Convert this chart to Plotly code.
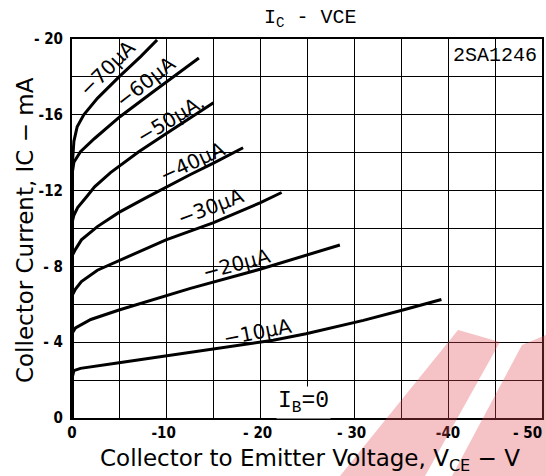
import plotly.graph_objects as go

# Collector-emitter voltage (V) and collector current (mA) per base current curve
ib_labels = ["−10μA", "−20μA", "−30μA", "−40μA", "−50μA.", "−60μA", "−70μA"]

vce_10 = [0, -0.05, -0.2, -0.9, -5, -10, -12.6, -21.4, -24.9, -29.9, -31, -35.2, -39.3]
ic_10 = [0, -2.2, -2.5, -2.62, -2.92, -3.27, -3.45, -4.1, -4.45, -5.0, -5.15, -5.7, -6.25]

vce_20 = [0, -0.05, -0.37, -2, -5, -10, -12.6, -20, -25, -28.5]
ic_20 = [0, -4.5, -4.75, -5.2, -5.7, -6.44, -6.84, -7.85, -8.6, -9.13]

vce_30 = [0, -0.05, -0.37, -1, -2.7, -5, -10, -15, -20, -22.3]
ic_30 = [0, -6.5, -6.8, -7.2, -7.8, -8.3, -9.4, -10.3, -11.35, -11.9]

vce_40 = [0, -0.05, -0.37, -1, -2.7, -5, -7.8, -9.9, -12.6, -15.05, -18.2]
ic_40 = [0, -8.6, -8.9, -9.4, -10.1, -10.85, -11.6, -12.15, -12.85, -13.45, -14.26]

vce_50 = [0, -0.05, -0.2, -0.6, -1.6, -2.4, -4.1, -7.1, -10, -15.05]
ic_50 = [0, -10.4, -10.7, -11.1, -11.7, -12.2, -12.95, -14.05, -15.0, -16.64]

vce_60 = [0, -0.05, -0.2, -0.9, -2.4, -5.1, -8.6, -12.6, -13.5]
ic_60 = [0, -13.0, -13.5, -14.05, -14.75, -15.9, -17.2, -18.7, -19.0]

vce_70 = [0, -0.05, -0.2, -0.55, -1.25, -2.7, -5, -7.3, -9.05]
ic_70 = [0, -13.5, -14.6, -15.37, -16.0, -16.87, -18.0, -19.07, -19.95]

x_tickvals = [0, -5, -10, -15, -20, -25, -30, -35, -40, -45, -50]
x_ticktext = ["0", "", "-10\u00a0", "", "- 20\u00a0", "", "- 30\u00a0", "", "-40", "", ""]
x_last_label = "- 50"
y_tickvals = [0, -2, -4, -6, -8, -10, -12, -14, -16, -18, -20]
y_ticktext = ["0", "", "- 4", "", "- 8", "", "-12", "", "-16", "", "- 20"]

# label positions (data coords) and angles
lab_x = [-19.7, -17.5, -14.7, -12.8, -10.5, -7.8, -3.8]
lab_y = [-4.55, -8.15, -11.15, -13.5, -15.8, -17.75, -18.45]
lab_ang = [-11, -15, -21, -25, -31, -38, -45]

curves = [(vce_10, ic_10), (vce_20, ic_20), (vce_30, ic_30), (vce_40, ic_40),
          (vce_50, ic_50), (vce_60, ic_60), (vce_70, ic_70)]

tick_font = dict(family="Liberation Sans Narrow, DejaVu Sans Condensed, Liberation Sans",
                 size=15, color="black", weight="bold")

fig = go.Figure()
for (xs, ys), name in zip(curves, ib_labels):
    fig.add_trace(go.Scatter(x=xs, y=ys, mode="lines", name=name,
                             line=dict(color="black", width=3), showlegend=False))

for t, x, y, a in zip(ib_labels, lab_x, lab_y, lab_ang):
    fig.add_annotation(x=x, y=y, text=t, showarrow=False, textangle=a,
                       font=dict(family="DejaVu Sans", size=20, color="black"))

fig.add_annotation(x=-45, y=-19.15, text="2SA1246", showarrow=False,
                   font=dict(family="Liberation Mono", size=20, color="black"))
fig.add_annotation(x=-24.6, y=-0.8, text="I<sub>B</sub>=0", showarrow=False,
                   bgcolor="white", borderpad=1,
                   font=dict(family="Liberation Mono", size=23, color="black"))

# last x tick label, kept inside the page like the scan
fig.add_annotation(x=x_tickvals[-1], xref="x", yref="paper", y=0, yshift=-15,
                   xanchor="right", yanchor="middle", xshift=2,
                   text=x_last_label, showarrow=False, font=tick_font)

fig.add_annotation(xref="paper", yref="paper", x=0.506, y=1.0, yshift=21,
                   yanchor="middle", xanchor="center",
                   text="I<sub>C</sub> - VCE", showarrow=False,
                   font=dict(family="Liberation Mono", size=20, color="black"))
fig.add_annotation(xref="paper", yref="paper", x=0.506, y=0, yshift=-42,
                   yanchor="middle", xanchor="center",
                   text="Collector to Emitter Voltage, V<sub>CE</sub> − V", showarrow=False,
                   font=dict(family="DejaVu Sans", size=23, color="black"))
fig.add_annotation(xref="paper", yref="paper", x=0, xshift=-47, y=0.496,
                   yanchor="middle", xanchor="center",
                   text="Collector Current, IC − mA", showarrow=False, textangle=-90,
                   font=dict(family="DejaVu Sans", size=23, color="black"))

# faint red watermark in the lower right corner of the scan
def px2paper(pts):
    return " ".join(("M" if i == 0 else "L") + f"{(x - 72) / 470:.4f},{(418 - y) / 379:.4f}"
                    for i, (x, y) in enumerate(pts)) + " Z"

wm_color = "rgba(225,70,80,0.33)"
fig.add_shape(type="path", xref="paper", yref="paper", layer="above", line_width=0,
              fillcolor=wm_color, path=px2paper([(340, 476), (425, 476), (500, 342), (458, 330)]))
fig.add_shape(type="path", xref="paper", yref="paper", layer="above", line_width=0,
              fillcolor=wm_color, path=px2paper([(452, 476), (546, 476), (546, 335), (522, 345)]))

axis_common = dict(showline=True, mirror=True, linecolor="black", linewidth=2,
                   showgrid=True, gridcolor="black", gridwidth=1.4, zeroline=False,
                   ticks="", ticklabeloverflow="allow", automargin=False,
                   tickfont=tick_font)
fig.update_xaxes(range=[0, -50], tickmode="array", tickvals=x_tickvals,
                 ticktext=x_ticktext, ticklabelstandoff=0, **axis_common)
fig.update_yaxes(range=[0, -20], tickmode="array", tickvals=y_tickvals,
                 ticktext=y_ticktext, ticklabelstandoff=4, **axis_common)

fig.update_layout(width=546, height=476, margin=dict(l=72, r=4, t=39, b=58),
                  paper_bgcolor="white", plot_bgcolor="white")

fig.write_html("out.html", config={"displayModeBar": False},
               post_script="document.body.style.margin='0';document.body.style.padding='0';")
